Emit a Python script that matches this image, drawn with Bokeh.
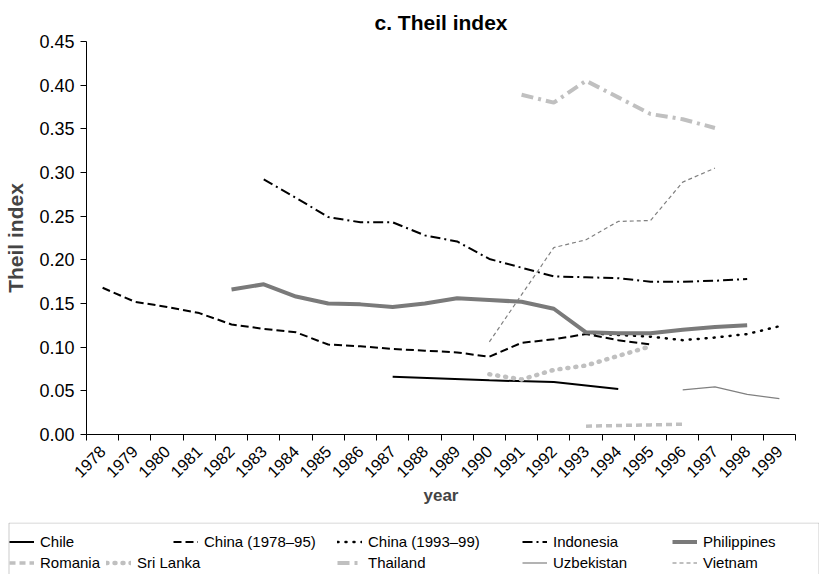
import numpy as np
from bokeh.plotting import figure
from bokeh.layouts import column
from bokeh.models import (FixedTicker, NumeralTickFormatter, Legend, LegendItem, Range1d,
                          BoxAnnotation)
from bokeh.embed import file_html
from bokeh.resources import INLINE

# ---------------- data ----------------
year_labels = [str(y) for y in range(1978, 2000)]
year_ticks = list(range(1978, 2000))
y_ticks = [0.00, 0.05, 0.10, 0.15, 0.20, 0.25, 0.30, 0.35, 0.40, 0.45]

chile_years = [1987, 1990, 1992, 1994]
chile_vals = [0.066, 0.062, 0.060, 0.052]

china1_years = [1978, 1979, 1980, 1981, 1982, 1983, 1984, 1985, 1986, 1987,
                1988, 1989, 1990, 1991, 1992, 1993, 1994, 1995]
china1_vals = [0.168, 0.152, 0.146, 0.139, 0.126, 0.121, 0.117, 0.103, 0.101, 0.098,
               0.096, 0.094, 0.089, 0.105, 0.109, 0.115, 0.108, 0.103]

china2_years = [1993, 1994, 1995, 1996, 1997, 1998, 1999]
china2_vals = [0.116, 0.114, 0.112, 0.108, 0.111, 0.115, 0.124]

indonesia_years = [1983, 1984, 1985, 1986, 1987, 1988, 1989, 1990, 1991, 1992,
                   1993, 1994, 1995, 1996, 1997, 1998]
indonesia_vals = [0.292, 0.271, 0.249, 0.243, 0.243, 0.228, 0.221, 0.201, 0.191, 0.181,
                  0.180, 0.179, 0.175, 0.175, 0.176, 0.178]

philippines_years = [1982, 1983, 1984, 1985, 1986, 1987, 1988, 1989, 1990, 1991,
                     1992, 1993, 1994, 1995, 1996, 1997, 1998]
philippines_vals = [0.166, 0.172, 0.158, 0.150, 0.149, 0.146, 0.150, 0.156, 0.154, 0.152,
                    0.144, 0.117, 0.116, 0.116, 0.120, 0.123, 0.125]

romania_years = [1993, 1994, 1995, 1996]
romania_vals = [0.0095, 0.0103, 0.011, 0.0118]

srilanka_years = [1990, 1991, 1992, 1993, 1994, 1995]
srilanka_vals = [0.069, 0.063, 0.074, 0.079, 0.090, 0.101]

thailand_years = [1991, 1992, 1993, 1994, 1995, 1996, 1997]
thailand_vals = [0.389, 0.380, 0.405, 0.386, 0.367, 0.361, 0.351]

uzbekistan_years = [1996, 1997, 1998, 1999]
uzbekistan_vals = [0.051, 0.0545, 0.046, 0.041]

vietnam_years = [1990, 1992, 1993, 1994, 1995, 1996, 1997]
vietnam_vals = [0.106, 0.214, 0.223, 0.244, 0.245, 0.289, 0.305]

# ---------------- figure ----------------
FONT = "Liberation Sans"

p = figure(frame_width=709, frame_height=393,
           x_range=Range1d(1977.5, 1999.5), y_range=Range1d(0, 0.45),
           output_backend="svg", toolbar_location=None,
           min_border_left=86, min_border_right=24, min_border_top=41, min_border_bottom=88,
           title="c. Theil index")
p.frame_align = False

p.outline_line_color = None
p.xgrid.visible = False
p.ygrid.visible = False

p.title.align = "center"
p.title.text_font = FONT
p.title.text_font_size = "21px"
p.title.text_font_style = "bold"
p.title.text_color = "black"
p.title.standoff = 15

# x axis: ticks at category boundaries, labels at centres
xa = p.xaxis[0]
xa.ticker = FixedTicker(ticks=year_ticks,
                        minor_ticks=[y - 0.5 for y in year_ticks] + [year_ticks[-1] + 0.5])
xa.major_label_overrides = {y: s for y, s in zip(year_ticks, year_labels)}
xa.major_tick_in = 0
xa.major_tick_out = 0
xa.minor_tick_in = 0
xa.minor_tick_out = 6
xa.minor_tick_line_color = "black"
xa.axis_line_color = "black"
xa.major_label_orientation = np.pi / 4
xa.major_label_text_font = FONT
xa.major_label_text_font_size = "16.5px"
xa.major_label_text_color = "black"
xa.major_label_standoff = 8
xa.axis_label = "year"
xa.axis_label_text_font = FONT
xa.axis_label_text_font_size = "17px"
xa.axis_label_text_font_style = "bold"
xa.axis_label_standoff = 0

ya = p.yaxis[0]
ya.ticker = FixedTicker(ticks=y_ticks, minor_ticks=[])
ya.formatter = NumeralTickFormatter(format="0.00")
ya.major_tick_in = 0
ya.major_tick_out = 6
ya.major_tick_line_color = "black"
ya.axis_line_color = "black"
ya.major_label_text_font = FONT
ya.major_label_text_font_size = "18px"
ya.major_label_text_color = "black"
ya.major_label_standoff = 6
ya.axis_label = "Theil index"
ya.axis_label_text_font = FONT
ya.axis_label_text_font_size = "21px"
ya.axis_label_text_font_style = "bold"
ya.axis_label_standoff = 9

# ---------------- series ----------------
series = [
    ("Chile", chile_years, chile_vals, dict(line_color="black", line_width=2)),
    ("China (1978\u201395)", china1_years, china1_vals,
     dict(line_color="black", line_width=2, line_dash="8 4")),
    ("China (1993\u201399)", china2_years, china2_vals,
     dict(line_color="black", line_width=2.5, line_dash="1 7", line_cap="round")),
    ("Indonesia", indonesia_years, indonesia_vals,
     dict(line_color="black", line_width=2, line_dash="10 4 2 4")),
    ("Philippines", philippines_years, philippines_vals,
     dict(line_color="#7a7a7a", line_width=4)),
    ("Romania", romania_years, romania_vals,
     dict(line_color="#c0c0c0", line_width=3.5, line_dash="6 4")),
    ("Sri Lanka", srilanka_years, srilanka_vals,
     dict(line_color="#c0c0c0", line_width=4.5, line_dash="1 7", line_cap="round")),
    ("Thailand", thailand_years, thailand_vals,
     dict(line_color="#c0c0c0", line_width=4, line_dash="12 5 3 5")),
    ("Uzbekistan", uzbekistan_years, uzbekistan_vals,
     dict(line_color="#808080", line_width=1.2)),
    ("Vietnam", vietnam_years, vietnam_vals,
     dict(line_color="#808080", line_width=1.2, line_dash="4 3")),
]

for name, xs, ys, style in series:
    p.line(xs, ys, **style)

# ---------------- legend strip (separate figure below, pixel coordinates) ----------------
LEG_W, LEG_H = 819, 52
leg = figure(frame_width=LEG_W, frame_height=LEG_H,
             x_range=Range1d(0, LEG_W), y_range=Range1d(0, LEG_H),
             output_backend="svg", toolbar_location=None,
             x_axis_location=None, y_axis_location=None,
             min_border_left=0, min_border_right=0, min_border_top=0, min_border_bottom=0)
leg.frame_align = False
leg.outline_line_color = None
leg.xgrid.visible = False
leg.ygrid.visible = False

leg.add_layout(BoxAnnotation(left=8.5, right=LEG_W - 0.5, top=LEG_H - 0.5, bottom=-20,
                             fill_alpha=0, line_color="#505050", line_width=1))

# legend slot offsets (pixels from the strip's left edge / bottom) for each entry
slot_x = [9, 173, 337, 522, 672,
          9, 106, 337, 522, 672]
slot_y = [21.5, 21.5, 21.5, 21.5, 21.5,
          0.5, 0.5, 0.5, 0.5, 0.5]

for (name, xs, ys, style), sx, sy in zip(series, slot_x, slot_y):
    r = leg.line(xs, ys, visible=False, **style)
    lg = Legend(items=[LegendItem(label=name, renderers=[r])], location=(sx, sy),
                glyph_width=25, glyph_height=23, label_standoff=6,
                spacing=0, padding=0, margin=0, click_policy="none",
                inactive_fill_alpha=0,
                label_text_font=FONT, label_text_font_size="15px",
                label_text_color="black",
                border_line_alpha=0, background_fill_alpha=0)
    leg.add_layout(lg)

layout = column(p, leg, spacing=0)
open("out.html", "w").write(file_html(layout, INLINE))
